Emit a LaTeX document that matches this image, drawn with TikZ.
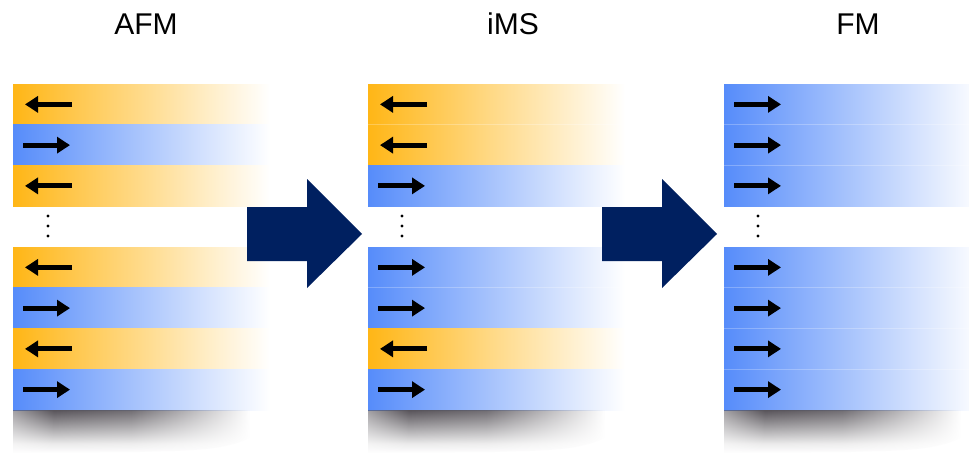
\documentclass[tikz,border=0pt]{standalone}
\usepackage{fontspec}
\setmainfont{Liberation Sans}
\usetikzlibrary{arrows.meta,fadings}
\definecolor{orng}{RGB}{255,182,22}
\definecolor{blu}{RGB}{86,140,250}
\definecolor{navy}{RGB}{0,32,96}
\definecolor{shd}{RGB}{88,84,90}
\pgfdeclareverticalshading{shadowv}{100bp}{color(0bp)=(white); color(25bp)=(white);
  color(36bp)=(shd!12!white); color(55bp)=(shd!55!white); color(75bp)=(shd); color(100bp)=(shd)}
\pgfdeclarehorizontalshading{shfadeh}{100bp}{color(0bp)=(white!55!black); color(25bp)=(white!55!black);
  color(33bp)=(white); color(48bp)=(white!85!black); color(60bp)=(white!40!black);
  color(71bp)=(black); color(100bp)=(black)}
\pgfdeclarefading{shfade}{\pgfuseshading{shfadeh}}
\tikzset{
  stripebase/.style={anchor=north west, minimum width=257pt, minimum height=40.75pt,
    inner sep=0pt, outer sep=0pt, draw=none},
  ostripe/.style={stripebase, left color=orng, right color=white},
  bstripe/.style={stripebase, left color=blu, right color=white},
  marr/.style={line width=5pt, -{Triangle[length=13pt,width=16pt]}},
  bigarrow/.style={fill=navy, draw=none},
  title/.style={font=\fontsize{30}{36}\selectfont, text=black, inner sep=0pt},
  sep/.style={draw=white, draw opacity=0.25, line width=0.7pt},
  shadow/.style={shading=shadowv, path fading=shfade},
  dotm/.style={fill=black}
}
\newcommand\stO[3]{\node[ostripe] (#1) at (#2,#3) {};
  \draw[marr] ([xshift=59pt]#1.west) -- ([xshift=12pt]#1.west);}
\newcommand\stB[3]{\node[bstripe] (#1) at (#2,#3) {};
  \draw[marr] ([xshift=10pt]#1.west) -- ([xshift=57pt]#1.west);}
\newcommand\shadowat[1]{\shade[shadow] (#1,410) -- (#1+257,410) -- (#1+257,426)
  .. controls (#1+215,452) .. (#1,453) -- cycle;}
\newcommand\vdotsat[1]{\fill[dotm] (#1,216) circle (1.6pt) (#1,226) circle (1.6pt) (#1,236) circle (1.6pt);}
\begin{document}
\begin{tikzpicture}[x=1pt,y=-1pt]
\clip (0,0) rectangle (969,455);
\fill[white] (0,0) rectangle (969,455);

% titles
\node[title] (tA) at (146,24) {AFM};
\node[title] (tI) at (513,24) {iMS};
\node[title] (tF) at (858,24) {FM};

% column 1 (AFM)
\stO{a1}{13}{84}
\stB{a2}{13}{124.75}
\stO{a3}{13}{165.5}
\stO{a4}{13}{247}
\stB{a5}{13}{287.75}
\stO{a6}{13}{328.5}
\stB{a7}{13}{369.25}
\vdotsat{48}
\shadowat{13}

% column 2 (iMS)
\stO{b1}{368}{84}
\stO{b2}{368}{124.75}
\stB{b3}{368}{165.5}
\stB{b4}{368}{247}
\stB{b5}{368}{287.75}
\stO{b6}{368}{328.5}
\stB{b7}{368}{369.25}
\draw[sep] (b1.south west) -- (b1.south east);
\draw[sep] (b4.south west) -- (b4.south east);
\vdotsat{402}
\shadowat{368}

% column 3 (FM)
\stB{c1}{724}{84}
\stB{c2}{724}{124.75}
\stB{c3}{724}{165.5}
\stB{c4}{724}{247}
\stB{c5}{724}{287.75}
\stB{c6}{724}{328.5}
\stB{c7}{724}{369.25}
\foreach \n in {c1,c2,c4,c5,c6}{\draw[sep] (\n.south west) -- (\n.south east);}
\vdotsat{758}
\shadowat{724}

% big arrows
\fill[bigarrow] (247,207) -- (307,207) -- (307,179) -- (362,234) -- (307,288) -- (307,261) -- (247,261) -- cycle;
\fill[bigarrow] (602,207) -- (662,207) -- (662,179) -- (717,234) -- (662,288) -- (662,261) -- (602,261) -- cycle;
\end{tikzpicture}
\end{document}
